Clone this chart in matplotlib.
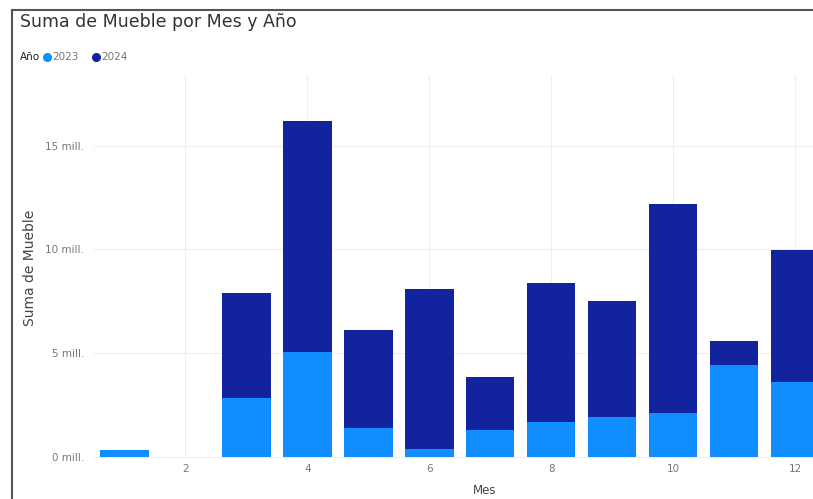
import matplotlib.pyplot as plt
from matplotlib.lines import Line2D

# Datos (millones)
meses = [1, 3, 4, 5, 6, 7, 8, 9, 10, 11, 12]
v2023 = [0.3, 2.84, 5.03, 1.39, 0.36, 1.28, 1.69, 1.93, 2.10, 4.42, 3.61]
v2024 = [0.0, 5.07, 11.14, 4.69, 7.73, 2.57, 6.68, 5.55, 10.08, 1.17, 6.37]

anios = ['2023', '2024']
colores = ['#118DFF', '#12239E']
yticks = [0, 5, 10, 15]
ytick_labels = ['0 mill.', '5 mill.', '10 mill.', '15 mill.']
xticks = [2, 4, 6, 8, 10, 12]

W, H = 813, 499
fig = plt.figure(figsize=(W / 100, H / 100), dpi=100)
ax = fig.add_axes([94 / W, (H - 458) / H, 1 - 94 / W, (458 - 75) / H])

ax.bar(meses, v2023, width=0.79, color=colores[0], zorder=3)
ax.bar(meses, v2024, width=0.79, bottom=v2023, color=colores[1], zorder=3)

ax.set_xlim(0.5, 12.29)
ax.set_ylim(-0.07, 18.4)
ax.set_xticks(xticks)
ax.set_yticks(yticks)
ax.set_yticklabels(ytick_labels)
ax.tick_params(axis='both', length=0, labelsize=7.5, labelcolor='#777777')
ax.tick_params(axis='y', pad=7)
ax.tick_params(axis='x', pad=4)
ax.grid(True, color='#eeeeee', linewidth=0.8, zorder=0)
for s in ax.spines.values():
    s.set_visible(False)

# Etiquetas de ejes
fig.text(30 / W, 1 - 268 / H, 'Suma de Mueble', rotation=90, ha='center', va='center',
         fontsize=10, color='#444444')
fig.text(485 / W, 1 - 491 / H, 'Mes', ha='center', va='center', fontsize=8.5, color='#444444')

# Titulo
fig.text(20 / W, 1 - 22 / H, 'Suma de Mueble por Mes y Año', ha='left', va='center',
         fontsize=12.5, color='#333333')

# Leyenda
fig.text(20 / W, 1 - 57 / H, 'Año', ha='left', va='center', fontsize=7.5, color='#222222')
for x_m, x_t, c, a in [(47, 52, colores[0], anios[0]), (96, 101, colores[1], anios[1])]:
    fig.add_artist(Line2D([x_m / W], [1 - 57 / H], marker='o', markersize=5.5,
                          color=c, linestyle='none'))
    fig.text(x_t / W, 1 - 57 / H, a, ha='left', va='center', fontsize=7.5, color='#777777')

# Marco
fig.add_artist(Line2D([12 / W, 12 / W], [0, 1 - 10 / H], color='#555555', linewidth=1.5))
fig.add_artist(Line2D([12 / W, 1], [1 - 10 / H, 1 - 10 / H], color='#555555', linewidth=1.5))

fig.savefig('out.png', dpi=100)
